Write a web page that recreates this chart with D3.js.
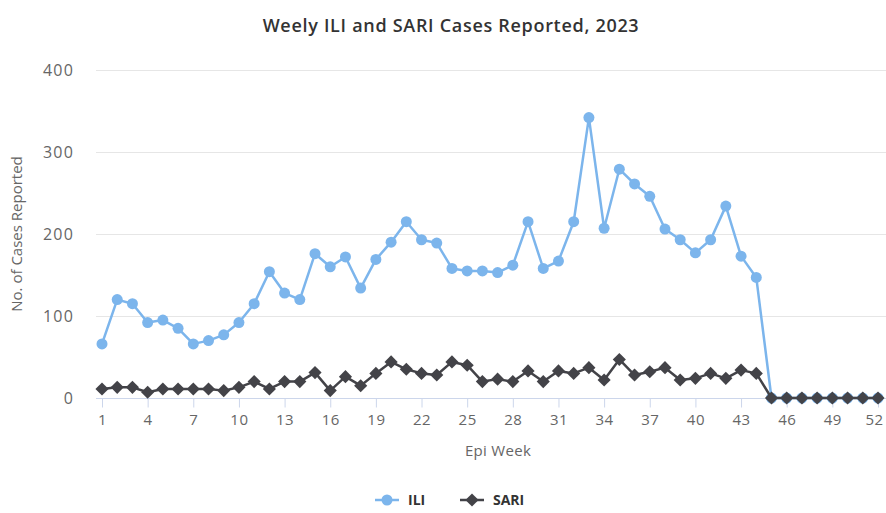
<!DOCTYPE html>
<html>
<head>
<meta charset="utf-8">
<script src="https://cdn.jsdelivr.net/npm/d3@7"></script>
<style>
  body { margin: 0; background: #fff; }
  text { font-family: "Open Sans", "DejaVu Sans", sans-serif; }
</style>
</head>
<body>
<div id="viz"></div>
<script>
// data
var weeks = d3.range(1, 53);
var iliValues = [66, 120, 115, 92, 95, 85, 66, 70, 77, 92, 115, 154, 128, 120, 176, 160, 172, 134, 169, 190,
  215, 193, 189, 158, 155, 155, 153, 162, 215, 158, 167, 215, 342, 207, 279, 261, 246, 206, 193, 177,
  193, 234, 173, 147, 0, 0, 0, 0, 0, 0, 0, 0];
var sariValues = [11, 13, 13, 7, 11, 11, 11, 11, 9, 13, 20, 11, 20, 20, 31, 9, 26, 15, 30, 44,
  35, 30, 28, 44, 40, 20, 23, 20, 33, 20, 33, 30, 37, 22, 47, 28, 32, 37, 22, 24,
  30, 24, 34, 30, 0, 0, 0, 0, 0, 0, 0, 0];
var yTicks = [0, 100, 200, 300, 400];
var xTickWeeks = [1, 4, 7, 10, 13, 16, 19, 22, 25, 28, 31, 34, 37, 40, 43, 46, 49, 52];

var width = 886, height = 513;
var plotLeft = 96, plotRight = 886, plotTop = 70, plotBottom = 398;

var svg = d3.select("#viz")
  .append("svg")
    .attr("width", width)
    .attr("height", height);

var x = d3.scaleLinear().domain([1, 52]).range([102, 878]);
var y = d3.scaleLinear().domain([0, 400]).range([plotBottom, plotTop]);

// title
svg.append("text")
  .attr("x", 451)
  .attr("y", 32)
  .attr("text-anchor", "middle")
  .style("font-size", "18px")
  .style("font-weight", "600")
  .style("letter-spacing", "0.7px")
  .style("fill", "#333")
  .text("Weely ILI and SARI Cases Reported, 2023");

// grid lines
svg.append("g")
  .selectAll("line")
  .data(yTicks.filter(function(d) { return d > 0; }))
  .enter()
  .append("line")
    .attr("x1", plotLeft)
    .attr("x2", plotRight)
    .attr("y1", function(d) { return y(d) + 0.5; })
    .attr("y2", function(d) { return y(d) + 0.5; })
    .style("stroke", "#e6e6e6");

// y axis labels
svg.append("g")
  .selectAll("text")
  .data(yTicks)
  .enter()
  .append("text")
    .attr("x", 74)
    .attr("y", function(d) { return y(d) + 6; })
    .attr("text-anchor", "end")
    .style("font-size", "16px")
    .style("letter-spacing", "1.2px")
    .style("fill", "#666")
    .text(function(d) { return d; });

svg.append("text")
  .attr("transform", "translate(22," + ((plotTop + plotBottom) / 2) + ") rotate(-90)")
  .attr("text-anchor", "middle")
  .style("font-size", "15px")
  .style("fill", "#666")
  .text("No. of Cases Reported");

// x axis
var xAxis = d3.axisBottom(x)
  .tickValues(xTickWeeks)
  .tickSize(9)
  .tickPadding(7)
  .tickFormat(d3.format("d"));

var gx = svg.append("g")
  .attr("transform", "translate(0," + (plotBottom + 0.5) + ")")
  .call(xAxis);
gx.select(".domain").remove();
gx.selectAll(".tick line").style("stroke", "#ccd6eb");
gx.selectAll(".tick text")
  .style("font-size", "15px")
  .style("letter-spacing", "0.5px")
  .style("fill", "#666")
  .style("font-family", "'Open Sans', 'DejaVu Sans', sans-serif");
// keep the last label inside the edge
gx.selectAll(".tick text")
  .filter(function(d) { return d === 52; })
  .attr("dx", -4);
gx.append("line")
  .attr("x1", plotLeft)
  .attr("x2", plotRight)
  .style("stroke", "#ccd6eb");

svg.append("text")
  .attr("x", 498)
  .attr("y", 456)
  .attr("text-anchor", "middle")
  .style("font-size", "15px")
  .style("letter-spacing", "0.3px")
  .style("fill", "#666")
  .text("Epi Week");

// lines
var iliColor = "#7cb5ec", sariColor = "#434348";

var line = d3.line()
  .x(function(d) { return x(d.week); })
  .y(function(d) { return y(d.value); });

var iliData = weeks.map(function(w, i) { return {week: w, value: iliValues[i]}; });
var sariData = weeks.map(function(w, i) { return {week: w, value: sariValues[i]}; });

svg.append("path")
  .datum(iliData)
  .attr("d", line)
  .style("fill", "none")
  .style("stroke", iliColor)
  .style("stroke-width", 2.5)
  .style("stroke-linejoin", "round");

svg.append("g")
  .selectAll("circle")
  .data(iliData)
  .enter()
  .append("circle")
    .attr("cx", function(d) { return x(d.week); })
    .attr("cy", function(d) { return y(d.value); })
    .attr("r", 5.5)
    .style("fill", iliColor);

svg.append("path")
  .datum(sariData)
  .attr("d", line)
  .style("fill", "none")
  .style("stroke", sariColor)
  .style("stroke-width", 2.5)
  .style("stroke-linejoin", "round");

var diamond = d3.symbol().type(d3.symbolDiamond2).size(110);

svg.append("g")
  .selectAll("path")
  .data(sariData)
  .enter()
  .append("path")
    .attr("d", diamond)
    .attr("transform", function(d) { return "translate(" + x(d.week) + "," + y(d.value) + ")"; })
    .style("fill", sariColor);

// legend
var legend = svg.append("g").attr("transform", "translate(0,500)");
var items = [
  {name: "ILI", color: iliColor, shape: "circle", x: 375},
  {name: "SARI", color: sariColor, shape: "diamond", x: 460}
];
items.forEach(function(it) {
  var g = legend.append("g").attr("transform", "translate(" + it.x + ",0)");
  g.append("line")
    .attr("x1", 0).attr("x2", 24)
    .style("stroke", it.color)
    .style("stroke-width", 2.5);
  if (it.shape === "circle") {
    g.append("circle").attr("cx", 12).attr("r", 5.5).style("fill", it.color);
  } else {
    g.append("path").attr("d", diamond).attr("transform", "translate(12,0)").style("fill", it.color);
  }
  g.append("text")
    .attr("x", 33)
    .attr("y", 5)
    .style("font-size", "14px")
    .style("font-weight", "bold")
    .style("fill", "#333")
    .text(it.name);
});
</script>
</body>
</html>
